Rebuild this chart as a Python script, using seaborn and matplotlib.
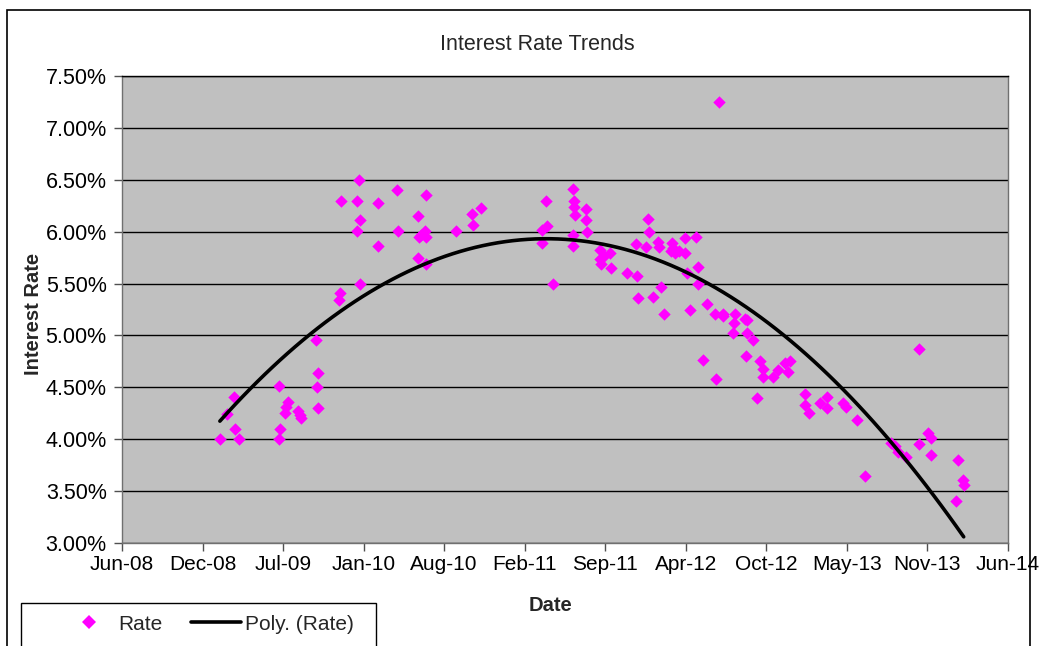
import matplotlib
matplotlib.use("Agg")
import matplotlib.pyplot as plt
import matplotlib.dates as mdates
from matplotlib.patches import Rectangle
from matplotlib.lines import Line2D
from matplotlib.ticker import FuncFormatter
import seaborn as sns
import pandas as pd

# Observed rates (percent) by date
dates = [
    "2009-01-30", "2009-02-16", "2009-03-07", "2009-03-09", "2009-03-19",
    "2009-06-26", "2009-06-27", "2009-06-28", "2009-07-11", "2009-07-12",
    "2009-07-17", "2009-08-13", "2009-08-17", "2009-08-20", "2009-09-26",
    "2009-09-29", "2009-09-30", "2009-10-01", "2009-11-22", "2009-11-24",
    "2009-11-27", "2010-01-05", "2010-01-06", "2010-01-11", "2010-01-12",
    "2010-01-13", "2010-02-26", "2010-02-27", "2010-04-16", "2010-04-17",
    "2010-06-06", "2010-06-07", "2010-06-08", "2010-06-13", "2010-06-24",
    "2010-06-25", "2010-06-26", "2010-06-27", "2010-09-08", "2010-10-17",
    "2010-10-21", "2010-11-09", "2011-04-09", "2011-04-10", "2011-04-20",
    "2011-04-22", "2011-05-08", "2011-06-25", "2011-06-26", "2011-06-27",
    "2011-06-28", "2011-06-29", "2011-06-30", "2011-07-28", "2011-07-29",
    "2011-07-30", "2011-09-01", "2011-09-02", "2011-09-03", "2011-09-11",
    "2011-09-26", "2011-09-27", "2011-11-06", "2011-11-30", "2011-12-01",
    "2011-12-05", "2011-12-24", "2011-12-30", "2011-12-31", "2012-01-10",
    "2012-01-24", "2012-01-25", "2012-01-30", "2012-02-07", "2012-02-25",
    "2012-02-26", "2012-03-01", "2012-03-05", "2012-03-15", "2012-03-30",
    "2012-03-31", "2012-04-03", "2012-04-11", "2012-04-26", "2012-05-01",
    "2012-05-02", "2012-05-13", "2012-05-24", "2012-06-12", "2012-06-15",
    "2012-06-22", "2012-07-02", "2012-07-03", "2012-07-26", "2012-07-30",
    "2012-08-01", "2012-08-26", "2012-08-29", "2012-08-30", "2012-08-31",
    "2012-09-16", "2012-09-25", "2012-10-02", "2012-10-09", "2012-10-10",
    "2012-11-04", "2012-11-17", "2012-12-03", "2012-12-11", "2012-12-15",
    "2013-01-22", "2013-01-23", "2013-01-31", "2013-02-28", "2013-03-17",
    "2013-03-18", "2013-04-27", "2013-05-04", "2013-06-01", "2013-06-20",
    "2013-08-23", "2013-09-02", "2013-09-10", "2013-09-30", "2013-11-01",
    "2013-11-02", "2013-11-24", "2013-12-01", "2013-12-02", "2014-02-01",
    "2014-02-07", "2014-02-19", "2014-02-20",
]
rates = [
    4.00, 4.24, 4.41, 4.10, 4.00,
    4.51, 4.00, 4.10, 4.25, 4.31,
    4.36, 4.27, 4.23, 4.20, 4.96,
    4.50, 4.64, 4.30, 5.34, 5.41,
    6.30, 6.01, 6.30, 6.50, 6.11,
    5.50, 6.28, 5.86, 6.40, 6.01,
    5.75, 6.15, 5.95, 5.97, 6.01,
    6.35, 5.95, 5.69, 6.01, 6.17,
    6.06, 6.23, 6.02, 5.89, 6.30,
    6.05, 5.50, 5.86, 5.97, 6.41,
    6.30, 6.24, 6.16, 6.22, 6.11,
    6.00, 5.82, 5.74, 5.69, 5.77,
    5.79, 5.65, 5.60, 5.88, 5.57,
    5.36, 5.85, 6.12, 6.00, 5.37,
    5.90, 5.85, 5.47, 5.21, 5.81,
    5.89, 5.84, 5.79, 5.81, 5.94,
    5.79, 5.60, 5.25, 5.95, 5.50,
    5.66, 4.76, 5.30, 5.21, 4.58,
    7.25, 5.21, 5.19, 5.02, 5.12,
    5.21, 5.16, 4.80, 5.15, 5.02,
    4.96, 4.40, 4.75, 4.60, 4.68,
    4.60, 4.67, 4.73, 4.65, 4.75,
    4.44, 4.33, 4.25, 4.35, 4.41,
    4.30, 4.35, 4.31, 4.19, 3.65,
    3.96, 3.93, 3.88, 3.83, 4.87,
    3.95, 4.06, 4.01, 3.85, 3.40,
    3.80, 3.61, 3.56,
]

axis_start = "2008-06-01"
tick_step_days = 200
n_ticks = 12
y_ticks = [3.0, 3.5, 4.0, 4.5, 5.0, 5.5, 6.0, 6.5, 7.0, 7.5]

df = pd.DataFrame({"date": pd.to_datetime(dates), "rate": rates})
df["x"] = mdates.date2num(df["date"])

sns.set_theme(style="white")
plt.rcParams["font.family"] = ["Liberation Sans", "DejaVu Sans"]

W, H = 1046, 646
fig = plt.figure(figsize=(W / 100, H / 100), dpi=100)
fig.patch.set_facecolor("white")
ax = fig.add_axes([122 / W, 1 - 543 / H, (1008 - 122) / W, (543 - 76) / H])
ax.set_facecolor("#C0C0C0")

x0 = mdates.date2num(pd.Timestamp(axis_start))
xticks = [x0 + tick_step_days * k for k in range(n_ticks)]

# horizontal gridlines
for yv in y_ticks:
    ax.axhline(yv, color="black", lw=1.0, zorder=1)

sns.scatterplot(data=df, x="x", y="rate", marker="D", s=40, color="#FF00FF",
                linewidth=0, ax=ax, zorder=3, legend=False)
sns.regplot(data=df, x="x", y="rate", order=2, ci=None, scatter=False,
            truncate=True, ax=ax,
            line_kws={"color": "black", "lw": 2.6, "zorder": 4})

ax.set_xlim(xticks[0], xticks[-1])
ax.set_ylim(3.0, 7.5)
ax.set_xticks(xticks)
ax.xaxis.set_major_formatter(mdates.DateFormatter("%b-%y"))
ax.set_yticks(y_ticks)
ax.yaxis.set_major_formatter(FuncFormatter(lambda v, p: f"{v:.2f}%"))

ax.tick_params(axis="both", which="major", direction="out", length=6,
               width=1, color="#505050", labelcolor="black",
               left=True, bottom=True)
ax.tick_params(axis="x", pad=3, labelsize=15)
ax.tick_params(axis="y", pad=5, labelsize=15.5)

for name, sp in ax.spines.items():
    sp.set_visible(True)
    sp.set_color("#707070")
    sp.set_linewidth(1.0)
ax.spines["top"].set_color("black")

ax.set_xlabel("Date", fontsize=14.5, fontweight="bold")
ax.set_ylabel("Interest Rate", fontsize=14.5, fontweight="bold")
ax.xaxis.set_label_coords((550 - 122) / 886, -(596 - 543) / 467)
ax.yaxis.set_label_coords((43 - 122) / 886, 0.49)

fig.text(537 / W, 1 - 45 / H, "Interest Rate Trends", ha="center",
         va="center", fontsize=15.5)

# outer chart border
fig.patches.append(Rectangle((7 / W, -0.1), (1030 - 7) / W, 1.1 - 10 / H,
                             transform=fig.transFigure, fill=False,
                             edgecolor="black", lw=1.2, clip_on=False))
# legend box
fig.patches.append(Rectangle((21 / W, -0.1), (376 - 21) / W, 0.1 + 1 - 603 / H,
                             transform=fig.transFigure, facecolor="white",
                             edgecolor="black", lw=1.0, clip_on=False))

handles = [
    Line2D([], [], marker="D", color="#FF00FF", linestyle="none",
           markersize=7, markeredgewidth=0),
    Line2D([], [], color="black", lw=2.6),
]
fig.legend(handles, ["Rate", "Poly. (Rate)"], loc="center left",
           bbox_to_anchor=(45 / W, 1 - 624 / H), ncol=2, frameon=False,
           fontsize=15, handlelength=2.4, columnspacing=1.4,
           handletextpad=0.2)

fig.savefig("out.png", dpi=100)
